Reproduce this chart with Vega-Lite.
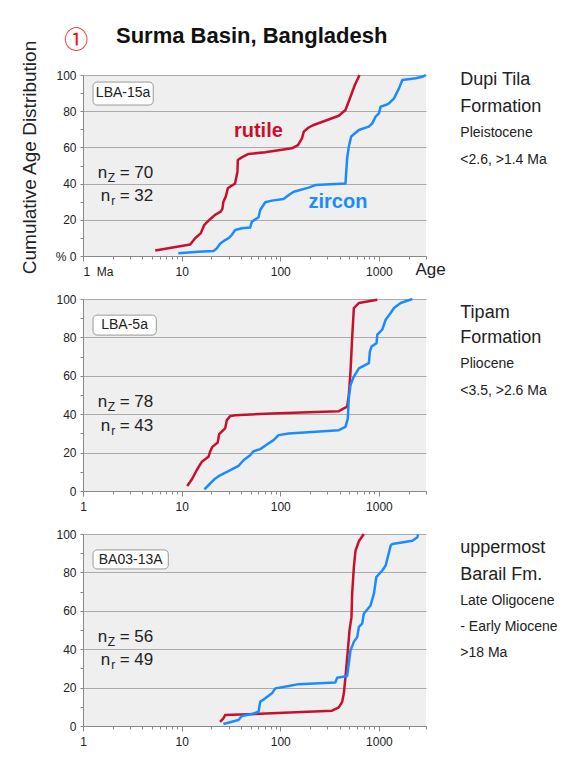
{
  "$schema": "https://vega.github.io/schema/vega-lite/v6.json",
  "padding": {"left": 20, "top": 24, "right": 4, "bottom": 6},
  "background": "white",
  "config": {
    "font": "Liberation Sans",
    "view": {"stroke": null, "fill": "#efefef"},
    "axis": {"domainColor": "#888", "tickColor": "#888", "labelColor": "#222", "labelFontSize": 12, "gridColor": "#aaa"},
    "text": {"color": "#222"}
  },
  "title": {"text": "①", "color": "#ee1111", "font": "Noto Sans CJK JP", "fontSize": 24, "fontWeight": "normal", "anchor": "start", "dx": 44, "dy": 32},
  "bounds": "flush",
  "spacing": 43,
  "datasets": {
    "curves": [
      {"panel":1,"mineral":"rutile","age":5.4,"pct":3},{"panel":1,"mineral":"rutile","age":12.2,"pct":6.4},{"panel":1,"mineral":"rutile","age":13.7,"pct":9.8},{"panel":1,"mineral":"rutile","age":15.6,"pct":12.5},{"panel":1,"mineral":"rutile","age":16.9,"pct":17},{"panel":1,"mineral":"rutile","age":18.7,"pct":19.5},{"panel":1,"mineral":"rutile","age":21.8,"pct":22.7},{"panel":1,"mineral":"rutile","age":24.9,"pct":24.5},{"panel":1,"mineral":"rutile","age":25.9,"pct":26},{"panel":1,"mineral":"rutile","age":26.5,"pct":30},{"panel":1,"mineral":"rutile","age":28,"pct":32.8},{"panel":1,"mineral":"rutile","age":29.4,"pct":37.4},{"panel":1,"mineral":"rutile","age":31.7,"pct":38.7},{"panel":1,"mineral":"rutile","age":34.8,"pct":40},{"panel":1,"mineral":"rutile","age":36.8,"pct":46.6},{"panel":1,"mineral":"rutile","age":37.1,"pct":53},{"panel":1,"mineral":"rutile","age":40.7,"pct":54.5},{"panel":1,"mineral":"rutile","age":47.6,"pct":56.4},{"panel":1,"mineral":"rutile","age":70.3,"pct":57.3},{"panel":1,"mineral":"rutile","age":131,"pct":59.5},{"panel":1,"mineral":"rutile","age":151,"pct":61.3},{"panel":1,"mineral":"rutile","age":166,"pct":65},{"panel":1,"mineral":"rutile","age":173,"pct":68.7},{"panel":1,"mineral":"rutile","age":194,"pct":71},{"panel":1,"mineral":"rutile","age":218,"pct":72.4},{"panel":1,"mineral":"rutile","age":392,"pct":77.5},{"panel":1,"mineral":"rutile","age":458,"pct":80.7},{"panel":1,"mineral":"rutile","age":515,"pct":88},{"panel":1,"mineral":"rutile","age":570,"pct":94.5},{"panel":1,"mineral":"rutile","age":636,"pct":100},
      {"panel":1,"mineral":"zircon","age":9.25,"pct":1.5},{"panel":1,"mineral":"zircon","age":14.8,"pct":2.4},{"panel":1,"mineral":"zircon","age":21,"pct":2.8},{"panel":1,"mineral":"zircon","age":22.7,"pct":4.2},{"panel":1,"mineral":"zircon","age":24.5,"pct":6.8},{"panel":1,"mineral":"zircon","age":27.6,"pct":8.8},{"panel":1,"mineral":"zircon","age":30.3,"pct":10.1},{"panel":1,"mineral":"zircon","age":32.2,"pct":11.6},{"panel":1,"mineral":"zircon","age":34.9,"pct":14.4},{"panel":1,"mineral":"zircon","age":40.8,"pct":15.3},{"panel":1,"mineral":"zircon","age":49.5,"pct":15.7},{"panel":1,"mineral":"zircon","age":51.5,"pct":19},{"panel":1,"mineral":"zircon","age":60.2,"pct":21.4},{"panel":1,"mineral":"zircon","age":62.6,"pct":25.4},{"panel":1,"mineral":"zircon","age":70.4,"pct":29.7},{"panel":1,"mineral":"zircon","age":82.3,"pct":30.6},{"panel":1,"mineral":"zircon","age":108,"pct":31.5},{"panel":1,"mineral":"zircon","age":122,"pct":33.7},{"panel":1,"mineral":"zircon","age":137,"pct":35.5},{"panel":1,"mineral":"zircon","age":194,"pct":37.8},{"panel":1,"mineral":"zircon","age":227,"pct":39.2},{"panel":1,"mineral":"zircon","age":458,"pct":40.1},{"panel":1,"mineral":"zircon","age":476,"pct":54},{"panel":1,"mineral":"zircon","age":495,"pct":60.4},{"panel":1,"mineral":"zircon","age":523,"pct":66},{"panel":1,"mineral":"zircon","age":626,"pct":69.6},{"panel":1,"mineral":"zircon","age":791,"pct":71.5},{"panel":1,"mineral":"zircon","age":855,"pct":73.3},{"panel":1,"mineral":"zircon","age":925,"pct":77},{"panel":1,"mineral":"zircon","age":1000,"pct":78.8},{"panel":1,"mineral":"zircon","age":1040,"pct":82.5},{"panel":1,"mineral":"zircon","age":1170,"pct":83.4},{"panel":1,"mineral":"zircon","age":1265,"pct":84.3},{"panel":1,"mineral":"zircon","age":1422,"pct":87.1},{"panel":1,"mineral":"zircon","age":1597,"pct":92.6},{"panel":1,"mineral":"zircon","age":1727,"pct":97.2},{"panel":1,"mineral":"zircon","age":2360,"pct":98.2},{"panel":1,"mineral":"zircon","age":2755,"pct":99},{"panel":1,"mineral":"zircon","age":2985,"pct":100},
      {"panel":2,"mineral":"rutile","age":11.4,"pct":2.6},{"panel":2,"mineral":"rutile","age":12.8,"pct":6.4},{"panel":2,"mineral":"rutile","age":14.2,"pct":10.8},{"panel":2,"mineral":"rutile","age":16,"pct":15.2},{"panel":2,"mineral":"rutile","age":18.7,"pct":17.8},{"panel":2,"mineral":"rutile","age":19.4,"pct":20.4},{"panel":2,"mineral":"rutile","age":20.5,"pct":23},{"panel":2,"mineral":"rutile","age":23.2,"pct":25.3},{"panel":2,"mineral":"rutile","age":24,"pct":29.6},{"panel":2,"mineral":"rutile","age":27.6,"pct":32.6},{"panel":2,"mineral":"rutile","age":28.7,"pct":36.9},{"panel":2,"mineral":"rutile","age":31,"pct":39},{"panel":2,"mineral":"rutile","age":34.9,"pct":39.5},{"panel":2,"mineral":"rutile","age":82,"pct":40.4},{"panel":2,"mineral":"rutile","age":392,"pct":41.6},{"panel":2,"mineral":"rutile","age":476,"pct":43.9},{"panel":2,"mineral":"rutile","age":495,"pct":50},{"panel":2,"mineral":"rutile","age":515,"pct":62.2},{"panel":2,"mineral":"rutile","age":535,"pct":79.6},{"panel":2,"mineral":"rutile","age":557,"pct":95.3},{"panel":2,"mineral":"rutile","age":626,"pct":97.9},{"panel":2,"mineral":"rutile","age":962,"pct":99.6},
      {"panel":2,"mineral":"zircon","age":17,"pct":0.9},{"panel":2,"mineral":"zircon","age":18.7,"pct":3},{"panel":2,"mineral":"zircon","age":21.8,"pct":6.4},{"panel":2,"mineral":"zircon","age":24.5,"pct":8.2},{"panel":2,"mineral":"zircon","age":29.8,"pct":10.3},{"panel":2,"mineral":"zircon","age":37.7,"pct":13.1},{"panel":2,"mineral":"zircon","age":42.4,"pct":16},{"panel":2,"mineral":"zircon","age":49.5,"pct":18.6},{"panel":2,"mineral":"zircon","age":53.5,"pct":20.7},{"panel":2,"mineral":"zircon","age":62.6,"pct":21.8},{"panel":2,"mineral":"zircon","age":73.2,"pct":24.2},{"panel":2,"mineral":"zircon","age":85.5,"pct":26.5},{"panel":2,"mineral":"zircon","age":96,"pct":29.1},{"panel":2,"mineral":"zircon","age":122,"pct":30},{"panel":2,"mineral":"zircon","age":392,"pct":31.7},{"panel":2,"mineral":"zircon","age":458,"pct":33.4},{"panel":2,"mineral":"zircon","age":484,"pct":37.8},{"panel":2,"mineral":"zircon","age":495,"pct":48.3},{"panel":2,"mineral":"zircon","age":515,"pct":55.2},{"panel":2,"mineral":"zircon","age":557,"pct":59.6},{"panel":2,"mineral":"zircon","age":626,"pct":63.9},{"panel":2,"mineral":"zircon","age":791,"pct":66.6},{"panel":2,"mineral":"zircon","age":809,"pct":72.6},{"panel":2,"mineral":"zircon","age":842,"pct":75.3},{"panel":2,"mineral":"zircon","age":946,"pct":77},{"panel":2,"mineral":"zircon","age":962,"pct":81.4},{"panel":2,"mineral":"zircon","age":1081,"pct":84},{"panel":2,"mineral":"zircon","age":1170,"pct":89.2},{"panel":2,"mineral":"zircon","age":1314,"pct":92.7},{"panel":2,"mineral":"zircon","age":1422,"pct":95.3},{"panel":2,"mineral":"zircon","age":1660,"pct":97.9},{"panel":2,"mineral":"zircon","age":2182,"pct":100},
      {"panel":3,"mineral":"rutile","age":24.5,"pct":2.2},{"panel":3,"mineral":"rutile","age":26.5,"pct":4},{"panel":3,"mineral":"rutile","age":27.6,"pct":5.7},{"panel":3,"mineral":"rutile","age":82,"pct":6.6},{"panel":3,"mineral":"rutile","age":335,"pct":8},{"panel":3,"mineral":"rutile","age":392,"pct":9.7},{"panel":3,"mineral":"rutile","age":424,"pct":12.6},{"panel":3,"mineral":"rutile","age":441,"pct":17},{"panel":3,"mineral":"rutile","age":458,"pct":25.6},{"panel":3,"mineral":"rutile","age":484,"pct":39.4},{"panel":3,"mineral":"rutile","age":503,"pct":49.8},{"panel":3,"mineral":"rutile","age":527,"pct":56.7},{"panel":3,"mineral":"rutile","age":535,"pct":68.9},{"panel":3,"mineral":"rutile","age":557,"pct":82.7},{"panel":3,"mineral":"rutile","age":579,"pct":91.3},{"panel":3,"mineral":"rutile","age":626,"pct":96.2},{"panel":3,"mineral":"rutile","age":703,"pct":100},
      {"panel":3,"mineral":"zircon","age":26.5,"pct":1},{"panel":3,"mineral":"zircon","age":37.7,"pct":3.1},{"panel":3,"mineral":"zircon","age":40.8,"pct":5.2},{"panel":3,"mineral":"zircon","age":51.5,"pct":6.2},{"panel":3,"mineral":"zircon","age":60.2,"pct":7.4},{"panel":3,"mineral":"zircon","age":62.6,"pct":12.6},{"panel":3,"mineral":"zircon","age":70.4,"pct":14.4},{"panel":3,"mineral":"zircon","age":82.3,"pct":17},{"panel":3,"mineral":"zircon","age":89,"pct":19.6},{"panel":3,"mineral":"zircon","age":122,"pct":20.8},{"panel":3,"mineral":"zircon","age":153,"pct":21.8},{"panel":3,"mineral":"zircon","age":362,"pct":22.7},{"panel":3,"mineral":"zircon","age":377,"pct":25.1},{"panel":3,"mineral":"zircon","age":476,"pct":26},{"panel":3,"mineral":"zircon","age":495,"pct":32.5},{"panel":3,"mineral":"zircon","age":515,"pct":39.4},{"panel":3,"mineral":"zircon","age":557,"pct":43.8},{"panel":3,"mineral":"zircon","age":603,"pct":46.4},{"panel":3,"mineral":"zircon","age":626,"pct":51.6},{"panel":3,"mineral":"zircon","age":677,"pct":53.3},{"panel":3,"mineral":"zircon","age":703,"pct":58.5},{"panel":3,"mineral":"zircon","age":822,"pct":62.8},{"panel":3,"mineral":"zircon","age":889,"pct":68.9},{"panel":3,"mineral":"zircon","age":940,"pct":77.5},{"panel":3,"mineral":"zircon","age":1081,"pct":81},{"panel":3,"mineral":"zircon","age":1170,"pct":83.6},{"panel":3,"mineral":"zircon","age":1314,"pct":93.9},{"panel":3,"mineral":"zircon","age":1368,"pct":94.8},{"panel":3,"mineral":"zircon","age":2182,"pct":96.5},{"panel":3,"mineral":"zircon","age":2455,"pct":98.3},{"panel":3,"mineral":"zircon","age":2490,"pct":99.7}
    ],
    "info": [
      {"panel":1,"sample":"LBA-15a","nz":"= 70","nr":"= 32","unit":"Dupi Tila\nFormation","epoch":"Pleistocene\n<2.6, >1.4 Ma"},
      {"panel":2,"sample":"LBA-5a","nz":"= 78","nr":"= 43","unit":"Tipam\nFormation","epoch":"Pliocene\n<3.5, >2.6 Ma"},
      {"panel":3,"sample":"BA03-13A","nz":"= 56","nr":"= 49","unit":"uppermost\nBarail Fm.","epoch":"Late Oligocene\n- Early Miocene\n>18 Ma"}
    ]
  },
  "vconcat": [
    {
      "width": 343, "height": 181,
      "title": {"text": "Surma Basin, Bangladesh", "fontSize": 22, "fontWeight": "bold", "color": "#111", "anchor": "start", "frame": "group", "dx": 33, "offset": -8},
      "layer": [
        {"data": {"name": "curves"}, "transform": [{"filter": "datum.panel == 1"}],
         "mark": {"type": "line", "strokeWidth": 2.5, "strokeJoin": "round"},
         "encoding": {
           "x": {"field": "age", "type": "quantitative", "scale": {"type": "log", "domain": [1, 3000], "nice": false},
             "axis": {"title": null, "grid": false, "tickCount": 50, "values": [1,2,3,4,5,6,7,8,9,10,20,30,40,50,60,70,80,90,100,200,300,400,500,600,700,800,900,1000,2000,3000],
               "labelExpr": "datum.value == 1 ? '1\u00a0\u00a0Ma' : datum.value == 10 ? '10' : datum.value == 100 ? '100' : datum.value == 1000 ? '1000' : datum.value == 3000 ? 'Age' : ''",
               "labelFlush": false, "labelOverlap": false, "labelBound": false, "labelBaseline": "middle", "labelPadding": 10,
               "labelAlign": {"condition": {"test": "datum.value == 1", "value": "left"}, "value": "center"},
               "labelFontSize": {"condition": {"test": "datum.value == 3000", "value": 17}, "value": 12},
               "labelOffset": {"condition": {"test": "datum.value == 3000", "value": 4}, "value": 0},
               "tickSize": {"condition": {"test": "datum.value == 1 || datum.value == 10 || datum.value == 100 || datum.value == 1000", "value": 5}, "value": 3}}},
           "y": {"field": "pct", "type": "quantitative", "scale": {"domain": [0, 100], "nice": false},
             "axis": {"title": "Cumulative Age Distribution", "titleFontSize": 19, "titleFontWeight": "normal", "titleColor": "#222", "titlePadding": 16, "titleY": 82,
               "values": [0,10,20,30,40,50,60,70,80,90,100], "tickCount": 20, "grid": true, "tickSize": 3, "labelPadding": 4, "labelOverlap": false,
               "labelExpr": "datum.value == 0 ? '% 0' : datum.value % 20 == 0 ? datum.label : ''",
               "gridOpacity": {"condition": {"test": "datum.value % 20 == 0", "value": 1}, "value": 0}}},
           "color": {"field": "mineral", "type": "nominal", "scale": {"domain": ["rutile", "zircon"], "range": ["#c8102e", "#1a8cff"]}, "legend": null},
           "order": {"field": "pct", "type": "quantitative"}
         }},
        {"data": {"name": "info"}, "transform": [{"filter": "datum.panel == 1"}],
         "mark": {"type": "rect", "fill": "white", "stroke": "#999", "strokeWidth": 1, "cornerRadius": 4},
         "encoding": {"x": {"datum": 1.264, "type": "quantitative"}, "x2": {"datum": 5.15}, "y": {"datum": 96.1, "type": "quantitative"}, "y2": {"datum": 83.4}}},
        {"data": {"name": "info"}, "transform": [{"filter": "datum.panel == 1"}],
         "mark": {"type": "text", "fontSize": 14, "align": "center", "baseline": "middle"},
         "encoding": {"x": {"datum": 2.55, "type": "quantitative"}, "y": {"datum": 89.8, "type": "quantitative"}, "text": {"field": "sample"}}},
        {"data": {"name": "info"}, "transform": [{"filter": "datum.panel == 1"}],
         "mark": {"type": "text", "fontSize": 17, "align": "right", "baseline": "middle", "dx": -46},
         "encoding": {"x": {"datum": 5.15, "type": "quantitative"}, "y": {"datum": 45.9, "type": "quantitative"}, "text": {"value": "n"}}},
        {"data": {"name": "info"}, "transform": [{"filter": "datum.panel == 1"}],
         "mark": {"type": "text", "fontSize": 12, "align": "right", "baseline": "middle", "dx": -38, "dy": 5},
         "encoding": {"x": {"datum": 5.15, "type": "quantitative"}, "y": {"datum": 45.9, "type": "quantitative"}, "text": {"value": "Z"}}},
        {"data": {"name": "info"}, "transform": [{"filter": "datum.panel == 1"}],
         "mark": {"type": "text", "fontSize": 17, "align": "right", "baseline": "middle"},
         "encoding": {"x": {"datum": 5.15, "type": "quantitative"}, "y": {"datum": 45.9, "type": "quantitative"}, "text": {"field": "nz"}}},
        {"data": {"name": "info"}, "transform": [{"filter": "datum.panel == 1"}],
         "mark": {"type": "text", "fontSize": 17, "align": "right", "baseline": "middle", "dx": -43},
         "encoding": {"x": {"datum": 5.15, "type": "quantitative"}, "y": {"datum": 33.1, "type": "quantitative"}, "text": {"value": "n"}}},
        {"data": {"name": "info"}, "transform": [{"filter": "datum.panel == 1"}],
         "mark": {"type": "text", "fontSize": 12, "align": "right", "baseline": "middle", "dx": -38, "dy": 5},
         "encoding": {"x": {"datum": 5.15, "type": "quantitative"}, "y": {"datum": 33.1, "type": "quantitative"}, "text": {"value": "r"}}},
        {"data": {"name": "info"}, "transform": [{"filter": "datum.panel == 1"}],
         "mark": {"type": "text", "fontSize": 17, "align": "right", "baseline": "middle"},
         "encoding": {"x": {"datum": 5.15, "type": "quantitative"}, "y": {"datum": 33.1, "type": "quantitative"}, "text": {"field": "nr"}}},
        {"data": {"name": "info"}, "transform": [{"filter": "datum.panel == 1"}],
         "mark": {"type": "text", "fontSize": 20, "fontWeight": "bold", "align": "center", "baseline": "middle", "color": "#c8102e"},
         "encoding": {"x": {"datum": 60, "type": "quantitative"}, "y": {"datum": 69, "type": "quantitative"}, "text": {"value": "rutile"}}},
        {"data": {"name": "info"}, "transform": [{"filter": "datum.panel == 1"}],
         "mark": {"type": "text", "fontSize": 20, "fontWeight": "bold", "align": "center", "baseline": "middle", "color": "#1a8cff"},
         "encoding": {"x": {"datum": 384, "type": "quantitative"}, "y": {"datum": 29.8, "type": "quantitative"}, "text": {"value": "zircon"}}},
        {"data": {"name": "info"}, "transform": [{"filter": "datum.panel == 1"}],
         "mark": {"type": "text", "fontSize": 18, "align": "left", "baseline": "top", "lineBreak": "\n", "lineHeight": 27},
         "encoding": {"x": {"datum": 6680, "type": "quantitative"}, "y": {"datum": 102.4, "type": "quantitative"}, "text": {"field": "unit"}}},
        {"data": {"name": "info"}, "transform": [{"filter": "datum.panel == 1"}],
         "mark": {"type": "text", "fontSize": 14, "align": "left", "baseline": "top", "lineBreak": "\n", "lineHeight": 27},
         "encoding": {"x": {"datum": 6680, "type": "quantitative"}, "y": {"datum": 72, "type": "quantitative"}, "text": {"field": "epoch"}}}
      ]
    },
    {
      "width": 343, "height": 192,
      "layer": [
        {"data": {"name": "curves"}, "transform": [{"filter": "datum.panel == 2"}],
         "mark": {"type": "line", "strokeWidth": 2.5, "strokeJoin": "round"},
         "encoding": {
           "x": {"field": "age", "type": "quantitative", "scale": {"type": "log", "domain": [1, 3000], "nice": false},
             "axis": {"title": null, "grid": false, "tickCount": 50, "values": [1,2,3,4,5,6,7,8,9,10,20,30,40,50,60,70,80,90,100,200,300,400,500,600,700,800,900,1000,2000,3000],
               "labelExpr": "datum.value == 1 ? '1' : datum.value == 10 ? '10' : datum.value == 100 ? '100' : datum.value == 1000 ? '1000' : ''",
               "labelFlush": false, "labelOverlap": false, "labelBound": false, "labelBaseline": "middle", "labelPadding": 10,
               "tickSize": {"condition": {"test": "datum.value == 1 || datum.value == 10 || datum.value == 100 || datum.value == 1000", "value": 5}, "value": 3}}},
           "y": {"field": "pct", "type": "quantitative", "scale": {"domain": [0, 100], "nice": false},
             "axis": {"title": null, "values": [0,10,20,30,40,50,60,70,80,90,100], "tickCount": 20, "grid": true, "tickSize": 3, "labelPadding": 4, "labelOverlap": false,
               "labelExpr": "datum.value % 20 == 0 ? datum.label : ''",
               "gridOpacity": {"condition": {"test": "datum.value % 20 == 0", "value": 1}, "value": 0}}},
           "color": {"field": "mineral", "type": "nominal", "scale": {"domain": ["rutile", "zircon"], "range": ["#c8102e", "#1a8cff"]}, "legend": null},
           "order": {"field": "pct", "type": "quantitative"}
         }},
        {"data": {"name": "info"}, "transform": [{"filter": "datum.panel == 2"}],
         "mark": {"type": "rect", "fill": "white", "stroke": "#999", "strokeWidth": 1, "cornerRadius": 4},
         "encoding": {"x": {"datum": 1.264, "type": "quantitative"}, "x2": {"datum": 5.53}, "y": {"datum": 91.6, "type": "quantitative"}, "y2": {"datum": 81.2}}},
        {"data": {"name": "info"}, "transform": [{"filter": "datum.panel == 2"}],
         "mark": {"type": "text", "fontSize": 14, "align": "center", "baseline": "middle"},
         "encoding": {"x": {"datum": 2.64, "type": "quantitative"}, "y": {"datum": 86.4, "type": "quantitative"}, "text": {"field": "sample"}}},
        {"data": {"name": "info"}, "transform": [{"filter": "datum.panel == 2"}],
         "mark": {"type": "text", "fontSize": 17, "align": "right", "baseline": "middle", "dx": -46},
         "encoding": {"x": {"datum": 5.15, "type": "quantitative"}, "y": {"datum": 46.6, "type": "quantitative"}, "text": {"value": "n"}}},
        {"data": {"name": "info"}, "transform": [{"filter": "datum.panel == 2"}],
         "mark": {"type": "text", "fontSize": 12, "align": "right", "baseline": "middle", "dx": -38, "dy": 5},
         "encoding": {"x": {"datum": 5.15, "type": "quantitative"}, "y": {"datum": 46.6, "type": "quantitative"}, "text": {"value": "Z"}}},
        {"data": {"name": "info"}, "transform": [{"filter": "datum.panel == 2"}],
         "mark": {"type": "text", "fontSize": 17, "align": "right", "baseline": "middle"},
         "encoding": {"x": {"datum": 5.15, "type": "quantitative"}, "y": {"datum": 46.6, "type": "quantitative"}, "text": {"field": "nz"}}},
        {"data": {"name": "info"}, "transform": [{"filter": "datum.panel == 2"}],
         "mark": {"type": "text", "fontSize": 17, "align": "right", "baseline": "middle", "dx": -43},
         "encoding": {"x": {"datum": 5.15, "type": "quantitative"}, "y": {"datum": 34.0, "type": "quantitative"}, "text": {"value": "n"}}},
        {"data": {"name": "info"}, "transform": [{"filter": "datum.panel == 2"}],
         "mark": {"type": "text", "fontSize": 12, "align": "right", "baseline": "middle", "dx": -38, "dy": 5},
         "encoding": {"x": {"datum": 5.15, "type": "quantitative"}, "y": {"datum": 34.0, "type": "quantitative"}, "text": {"value": "r"}}},
        {"data": {"name": "info"}, "transform": [{"filter": "datum.panel == 2"}],
         "mark": {"type": "text", "fontSize": 17, "align": "right", "baseline": "middle"},
         "encoding": {"x": {"datum": 5.15, "type": "quantitative"}, "y": {"datum": 34.0, "type": "quantitative"}, "text": {"field": "nr"}}},
        {"data": {"name": "info"}, "transform": [{"filter": "datum.panel == 2"}],
         "mark": {"type": "text", "fontSize": 18, "align": "left", "baseline": "top", "lineBreak": "\n", "lineHeight": 25},
         "encoding": {"x": {"datum": 6680, "type": "quantitative"}, "y": {"datum": 97.4, "type": "quantitative"}, "text": {"field": "unit"}}},
        {"data": {"name": "info"}, "transform": [{"filter": "datum.panel == 2"}],
         "mark": {"type": "text", "fontSize": 14, "align": "left", "baseline": "top", "lineBreak": "\n", "lineHeight": 27},
         "encoding": {"x": {"datum": 6680, "type": "quantitative"}, "y": {"datum": 69.8, "type": "quantitative"}, "text": {"field": "epoch"}}}
      ]
    },
    {
      "width": 343, "height": 192,
      "layer": [
        {"data": {"name": "curves"}, "transform": [{"filter": "datum.panel == 3"}],
         "mark": {"type": "line", "strokeWidth": 2.5, "strokeJoin": "round"},
         "encoding": {
           "x": {"field": "age", "type": "quantitative", "scale": {"type": "log", "domain": [1, 3000], "nice": false},
             "axis": {"title": null, "grid": false, "tickCount": 50, "values": [1,2,3,4,5,6,7,8,9,10,20,30,40,50,60,70,80,90,100,200,300,400,500,600,700,800,900,1000,2000,3000],
               "labelExpr": "datum.value == 1 ? '1' : datum.value == 10 ? '10' : datum.value == 100 ? '100' : datum.value == 1000 ? '1000' : ''",
               "labelFlush": false, "labelOverlap": false, "labelBound": false, "labelBaseline": "middle", "labelPadding": 10,
               "tickSize": {"condition": {"test": "datum.value == 1 || datum.value == 10 || datum.value == 100 || datum.value == 1000", "value": 5}, "value": 3}}},
           "y": {"field": "pct", "type": "quantitative", "scale": {"domain": [0, 100], "nice": false},
             "axis": {"title": null, "values": [0,10,20,30,40,50,60,70,80,90,100], "tickCount": 20, "grid": true, "tickSize": 3, "labelPadding": 4, "labelOverlap": false,
               "labelExpr": "datum.value % 20 == 0 ? datum.label : ''",
               "gridOpacity": {"condition": {"test": "datum.value % 20 == 0", "value": 1}, "value": 0}}},
           "color": {"field": "mineral", "type": "nominal", "scale": {"domain": ["rutile", "zircon"], "range": ["#c8102e", "#1a8cff"]}, "legend": null},
           "order": {"field": "pct", "type": "quantitative"}
         }},
        {"data": {"name": "info"}, "transform": [{"filter": "datum.panel == 3"}],
         "mark": {"type": "rect", "fill": "white", "stroke": "#999", "strokeWidth": 1, "cornerRadius": 4},
         "encoding": {"x": {"datum": 1.264, "type": "quantitative"}, "x2": {"datum": 7.32}, "y": {"datum": 91.7, "type": "quantitative"}, "y2": {"datum": 81.8}}},
        {"data": {"name": "info"}, "transform": [{"filter": "datum.panel == 3"}],
         "mark": {"type": "text", "fontSize": 14, "align": "center", "baseline": "middle"},
         "encoding": {"x": {"datum": 3.04, "type": "quantitative"}, "y": {"datum": 86.7, "type": "quantitative"}, "text": {"field": "sample"}}},
        {"data": {"name": "info"}, "transform": [{"filter": "datum.panel == 3"}],
         "mark": {"type": "text", "fontSize": 17, "align": "right", "baseline": "middle", "dx": -46},
         "encoding": {"x": {"datum": 5.15, "type": "quantitative"}, "y": {"datum": 46.4, "type": "quantitative"}, "text": {"value": "n"}}},
        {"data": {"name": "info"}, "transform": [{"filter": "datum.panel == 3"}],
         "mark": {"type": "text", "fontSize": 12, "align": "right", "baseline": "middle", "dx": -38, "dy": 5},
         "encoding": {"x": {"datum": 5.15, "type": "quantitative"}, "y": {"datum": 46.4, "type": "quantitative"}, "text": {"value": "Z"}}},
        {"data": {"name": "info"}, "transform": [{"filter": "datum.panel == 3"}],
         "mark": {"type": "text", "fontSize": 17, "align": "right", "baseline": "middle"},
         "encoding": {"x": {"datum": 5.15, "type": "quantitative"}, "y": {"datum": 46.4, "type": "quantitative"}, "text": {"field": "nz"}}},
        {"data": {"name": "info"}, "transform": [{"filter": "datum.panel == 3"}],
         "mark": {"type": "text", "fontSize": 17, "align": "right", "baseline": "middle", "dx": -43},
         "encoding": {"x": {"datum": 5.15, "type": "quantitative"}, "y": {"datum": 34.4, "type": "quantitative"}, "text": {"value": "n"}}},
        {"data": {"name": "info"}, "transform": [{"filter": "datum.panel == 3"}],
         "mark": {"type": "text", "fontSize": 12, "align": "right", "baseline": "middle", "dx": -38, "dy": 5},
         "encoding": {"x": {"datum": 5.15, "type": "quantitative"}, "y": {"datum": 34.4, "type": "quantitative"}, "text": {"value": "r"}}},
        {"data": {"name": "info"}, "transform": [{"filter": "datum.panel == 3"}],
         "mark": {"type": "text", "fontSize": 17, "align": "right", "baseline": "middle"},
         "encoding": {"x": {"datum": 5.15, "type": "quantitative"}, "y": {"datum": 34.4, "type": "quantitative"}, "text": {"field": "nr"}}},
        {"data": {"name": "info"}, "transform": [{"filter": "datum.panel == 3"}],
         "mark": {"type": "text", "fontSize": 18, "align": "left", "baseline": "top", "lineBreak": "\n", "lineHeight": 27},
         "encoding": {"x": {"datum": 6680, "type": "quantitative"}, "y": {"datum": 97.4, "type": "quantitative"}, "text": {"field": "unit"}}},
        {"data": {"name": "info"}, "transform": [{"filter": "datum.panel == 3"}],
         "mark": {"type": "text", "fontSize": 14, "align": "left", "baseline": "top", "lineBreak": "\n", "lineHeight": 26},
         "encoding": {"x": {"datum": 6680, "type": "quantitative"}, "y": {"datum": 68.8, "type": "quantitative"}, "text": {"field": "epoch"}}}
      ]
    }
  ]
}
